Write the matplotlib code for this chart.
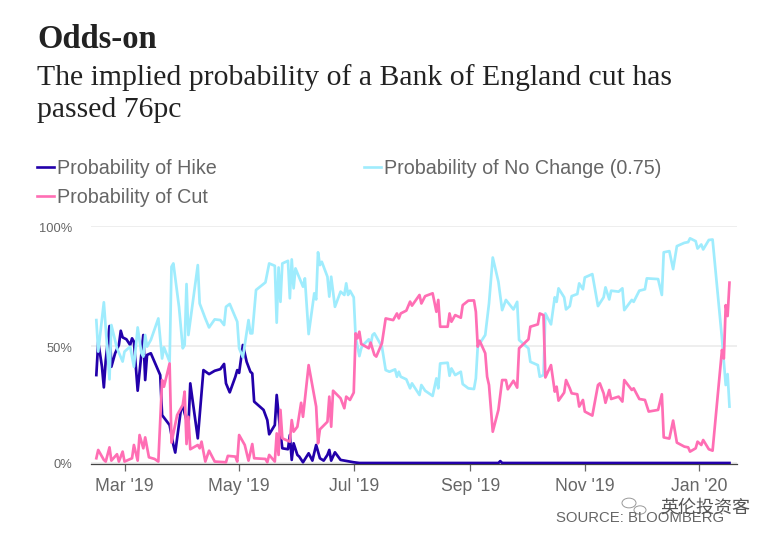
import numpy as np
import matplotlib
matplotlib.use("Agg")
import matplotlib.pyplot as plt
from matplotlib.lines import Line2D
from matplotlib.patches import Circle

START = np.datetime64("2019-02-14")
nochange_days = [0,1,4,7,8,11,14,15,18,20,22,24,25,26,27,29,33,35,36,39,40,41,44,46,47,48,49,54,55,58,60,63,66,68,69,71,75,76,78,81,82,83,85,90,92,95,96,97,98,99,102,103,104,105,106,110,111,113,116,117,118,119,120,123,124,125,127,130,132,133,134,135,137,138,140,141,142,145,146,147,148,152,154,156,159,160,161,162,165,167,168,172,173,175,179,181,182,183,187,188,189,191,194,195,198,201,202,203,207,209,211,214,216,218,222,224,225,230,231,235,236,238,239,242,244,245,246,249,250,252,253,256,257,259,260,264,267,270,271,273,274,278,280,281,285,286,289,292,293,299,301,302,305,307,309,313,315,316,319,320,322,323,326,328,333,335,336,337]
nochange_pct = [60.3,47.0,67.8,35.3,58.2,48.4,42.8,47.0,49.1,40.6,57.2,46.3,44.9,54.0,49.1,51.9,61.0,44.1,48.8,42.7,82.8,84.2,65.9,48.4,49.8,75.5,54.0,83.5,67.3,61.0,57.2,60.6,60.3,58.2,65.9,67.1,59.6,48.4,44.6,60.3,54.7,54.7,73.0,76.2,84.2,83.2,59.2,82.5,68.0,84.2,85.3,69.5,85.9,73.7,82.1,74.4,77.9,54.4,71.6,69.0,88.9,83.5,84.9,78.6,70.2,78.6,65.9,72.3,70.9,75.8,70.9,72.7,69.9,53.3,45.1,48.4,49.8,52.2,49.8,54.0,54.7,49.1,39.2,38.5,39.5,36.4,38.5,36.4,35.3,31.5,33.6,28.7,32.9,30.5,28.3,35.7,31.5,42.0,42.3,36.8,39.9,37.1,38.5,33.3,31.5,31.2,35.7,49.1,54.0,67.3,86.7,76.5,64.5,68.8,64.8,68.0,51.9,48.4,42.7,41.3,36.4,37.1,63.1,58.5,69.9,68.0,73.7,69.9,64.8,66.2,70.4,71.3,75.8,73.3,78.3,79.7,66.2,69.9,74.1,69.0,72.7,72.3,73.7,64.5,68.8,68.0,72.7,73.3,77.9,77.6,70.9,88.9,89.4,81.8,91.5,92.9,93.2,94.8,93.6,90.5,92.2,90.1,94.1,94.3,52.6,32.9,37.5,23.8]

hike_days = [0,1,3,4,5,7,8,10,12,13,14,16,18,19,20,22,25,26,27,29,34,35,39,41,42,45,46,49,50,54,57,60,63,66,68,69,71,74,75,76,78,80,82,83,84,88,89,91,92,95,96,98,99,102,103,104,105,107,108,110,113,115,117,119,121,123,124,125,127,130,137,140,214,215,216,337]
hike_pct = [37.1,51.2,40.6,31.9,43.4,57.8,40.6,46.3,49.8,55.8,53.0,52.2,49.8,52.6,51.2,30.5,54.0,35.0,45.6,46.3,37.1,20.2,16.0,7.6,4.4,22.4,23.8,15.3,33.6,10.4,39.2,37.5,38.9,39.6,41.8,33.6,29.8,36.4,39.2,38.0,49.8,42.7,38.5,37.8,25.9,23.1,22.4,18.1,12.1,16.0,28.7,12.5,6.2,5.8,11.8,1.3,8.3,3.4,2.7,0.3,4.1,1.0,7.6,2.0,1.0,3.4,5.5,1.0,4.5,1.3,0.3,0,0,0.8,0,0]

cut_days = [0,1,4,5,7,8,11,12,14,15,19,20,22,23,25,26,28,31,33,35,36,39,40,43,46,47,48,49,50,54,55,56,58,60,63,69,70,74,75,76,79,81,83,84,90,91,92,95,96,97,98,99,103,104,105,107,109,110,113,117,118,119,123,124,125,126,130,132,133,135,137,138,139,140,141,145,146,148,149,152,154,158,160,161,162,165,167,168,172,173,175,179,181,182,183,187,188,189,191,194,195,198,201,202,203,204,207,208,209,211,214,216,218,219,222,224,225,230,231,235,236,238,239,242,244,245,246,249,250,252,253,256,257,259,260,264,267,268,270,271,273,274,278,280,281,285,286,289,292,294,299,301,302,305,307,309,313,315,316,319,320,322,323,326,328,333,334,335,336,337]
cut_pct = [2.0,5.5,1.3,0.6,6.6,1.0,3.7,0.6,4.8,0.6,2.0,7.6,1.0,11.8,6.2,10.8,2.4,1.7,0.6,35.0,32.2,42.0,8.6,20.2,24.5,30.1,8.0,19.5,5.8,7.6,6.2,9.0,0.6,5.2,0.6,0.3,3.0,2.7,0.6,11.8,7.6,1.0,8.0,2.0,1.7,0.3,3.4,0.6,12.5,3.4,22.4,10.4,9.0,18.1,13.2,15.3,25.4,19.5,41.3,23.8,8.3,14.2,17.4,28.0,15.3,30.5,27.3,23.1,28.0,26.6,29.7,54.7,52.6,55.4,50.2,48.4,50.8,45.6,44.9,50.5,61.0,60.3,63.1,61.0,63.1,64.3,68.1,66.4,70.9,67.3,70.4,71.6,63.8,68.8,57.5,57.5,63.1,59.6,62.4,61.3,66.6,68.5,68.6,63.8,49.1,51.6,46.3,36.4,32.9,13.2,22.4,35.0,35.0,31.1,34.7,31.8,48.4,52.2,57.5,58.5,63.1,62.4,36.1,41.3,30.1,32.2,26.3,29.7,35.0,31.5,29.4,29.0,23.8,26.6,21.7,20.0,32.9,33.6,29.4,25.4,30.8,27.0,28.0,25.9,35.0,30.8,31.5,27.0,26.6,21.7,22.4,29.0,10.8,10.3,17.9,8.6,6.9,6.6,4.8,6.2,9.0,7.6,9.7,5.8,5.2,47.7,44.1,66.6,62.0,76.1]

tick_dates = ["2019-03-01","2019-05-01","2019-07-01","2019-09-01","2019-11-01","2020-01-01"]
tick_labels = ["Mar '19","May '19","Jul '19","Sep '19","Nov '19","Jan '20"]
ytick_values = [0, 49.4, 100]
ytick_labels = ["0%", "50%", "100%"]

W, H = 777, 540
C_HIKE, C_NC, C_CUT = "#2200aa", "#9fecfd", "#ff6eb4"
SERIF = ["Liberation Serif", "DejaVu Serif"]
SANS = ["Liberation Sans", "DejaVu Sans"]

fig = plt.figure(figsize=(W/100, H/100), dpi=100, facecolor="white")
ax = fig.add_axes([90.7/W, 1-463.7/H, (737-90.7)/W, (463.7-226)/H])

def dates(days):
    return START + np.array(days).astype("timedelta64[D]")

ax.plot(dates(hike_days), hike_pct, color=C_HIKE, lw=1.95, zorder=3)
ax.plot(dates(nochange_days), nochange_pct, color=C_NC, lw=1.95, zorder=4)
ax.plot(dates(cut_days), cut_pct, color=C_CUT, lw=1.95, zorder=5)

ax.set_xlim(START - np.timedelta64(3, "D"), START + np.timedelta64(341, "D"))
ax.set_ylim(-0.3, 100)
for s in ["top", "left", "right"]:
    ax.spines[s].set_visible(False)
ax.spines["bottom"].set_color("#444444")
ax.spines["bottom"].set_linewidth(0.9)
ax.set_xticks([np.datetime64(d) for d in tick_dates])
ax.set_xticklabels(tick_labels, family=SANS, fontsize=12.7, color="#666666")
ax.tick_params(axis="x", length=5, width=0.9, color="#666666", pad=5)
ax.set_yticks(ytick_values)
ax.set_yticklabels([])
ax.tick_params(axis="y", length=0)
ax.grid(axis="y", color="#eeeeee", lw=1.4, zorder=0)
ax.set_axisbelow(True)
ax.patch.set_alpha(0)

def ptext(x, y, s, **kw):
    return fig.text(x/W, 1-y/H, s, va="center", **kw)

ptext(37, 40, "Odds-on", family=SERIF, fontweight="bold", fontsize=23.5, color="#222222")
ptext(37, 78, "The implied probability of a Bank of England cut has", family=SERIF, fontsize=21.4, color="#222222")
ptext(37, 110, "passed 76pc", family=SERIF, fontsize=21.4, color="#222222")

for x, y, s, c in [(57, 167, "Probability of Hike", C_HIKE),
                   (384, 167, "Probability of No Change (0.75)", C_NC),
                   (57, 196, "Probability of Cut", C_CUT)]:
    fig.add_artist(Line2D([(x-20)/W, (x-3)/W], [1-y/H, 1-y/H], color=c, lw=1.9, transform=fig.transFigure))
    ptext(x, y+1.5, s, family=SANS, fontsize=14.2, color="#666666")

for lab, y in zip(ytick_labels, [465.5, 348.5, 229.5]):
    ptext(72, y, lab, family=SANS, fontsize=9.3, color="#666666", ha="right")

ptext(556, 517.5, "SOURCE: BLOOMBERG", family=SANS, fontsize=10.7, color="#666666")
ptext(660, 508, "英伦投资客", family=["Noto Sans CJK SC", "DejaVu Sans"], fontsize=13, color="#555555", zorder=10)
for cx, cy, r in [(629, 503, 7), (640, 510, 6)]:
    fig.add_artist(Circle((cx/W, 1-cy/H), r/W, transform=fig.transFigure, fill=False, ec="#999999", lw=0.7))

fig.savefig("out.png", dpi=100)
